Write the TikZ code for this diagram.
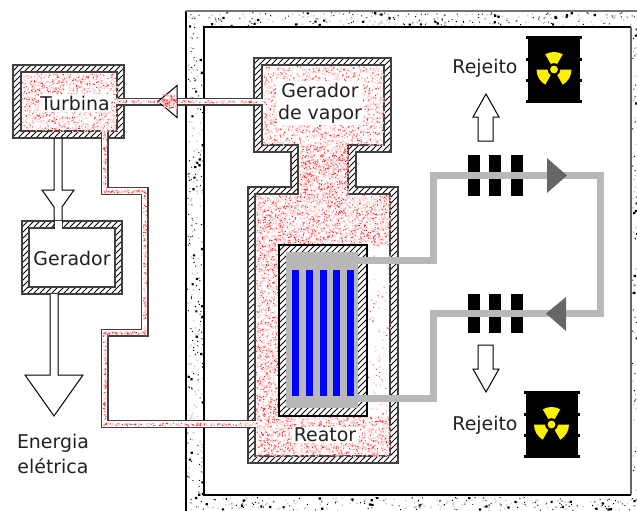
\documentclass[tikz,border=0pt]{standalone}
\usepackage{fontspec}
\setmainfont{DejaVu Sans}
\definecolor{wallline}{gray}{0.25}
\definecolor{coolgray}{gray}{0.72}
\definecolor{darktip}{gray}{0.4}
\definecolor{labelink}{gray}{0.13}
\tikzset{
	wall/.style     = {draw = wallline, line width = 1.1pt},
	hatchline/.style= {draw = black, line width = 0.6pt},
	cavity/.style   = {draw = wallline, line width = 1.1pt, fill = white},
	hollow/.style   = {draw = black, line width = 0.75pt, fill = white},
	cooling/.style  = {draw = coolgray, line width = 5.2pt, line join = miter},
	barblock/.style = {fill = black},
	rod/.style      = {fill = blue},
	tiptri/.style   = {fill = darktip},
	label/.style    = {text = labelink, font = \fontsize{14.2pt}{16.7pt}\selectfont,
		align = center, inner sep = 1pt},
	barrel/.pic     = {
		\fill[black] (-26,-33) rectangle (26,33);
		\foreach \ry in {-32,-10.5,10.5,32}
			\fill[black] (-28,\ry-1.5) rectangle (28,\ry+1.5);
		\foreach \ang in {270,30,150}
			\fill[yellow] (\ang-30:6.5) arc[start angle = \ang-30, end angle = \ang+30, radius = 6.5]
				-- (\ang+30:17.5) arc[start angle = \ang+30, end angle = \ang-30, radius = 17.5] -- cycle;
		\filldraw[fill = yellow, draw = black, line width = 0.6pt] (0,0) circle (4.5);
	}
}
% rect x0 y0 width height count colour dot
\newcommand{\speckle}[7]{
	\fill[#6] \foreach \k in {1,...,#5} {
		({#1+rnd*#3},{#2+rnd*#4}) rectangle ++(#7,#7)
	};
}
\newcommand{\steam}[5]{
	\speckle{#1}{#2}{#3}{#4}{#5}{red!22}{1.4}
	\speckle{#1}{#2}{#3}{#4}{#5}{red!22}{1.4}
	\speckle{#1}{#2}{#3}{#4}{#5}{red!85}{1}
}
\newcommand{\grit}[5]{
	\pgfmathtruncatemacro{\bigdots}{#5/4}
	\speckle{#1}{#2}{#3}{#4}{#5}{black!22}{1.4}
	\speckle{#1}{#2}{#3}{#4}{#5}{black}{1}
	\speckle{#1}{#2}{#3}{#4}{\bigdots}{black}{2.2}
}
% slanted strokes across a box: x0 y0 x1 y1
\newcommand{\hatchbox}[4]{
	\pgfmathsetmacro{\hatchend}{#3}
	\pgfmathsetmacro{\hatchfirst}{#1-(#4-#2)}
	\pgfmathsetmacro{\hatchnext}{\hatchfirst+6}
	\foreach \hx in {\hatchfirst,\hatchnext,...,\hatchend}
		\draw[hatchline] (\hx,#4) -- ({\hx+#4-#2},#2);
}
\begin{document}
\begin{tikzpicture}[x=0.75pt, y=-0.75pt]
	\useasboundingbox (0,0) rectangle (637,511);
	\pgfmathsetseed{4127}

	% concrete building
	\draw[black, line width = 0.9pt] (186,511) -- (186,11);
	\draw[black!55, line width = 1.4pt] (186,11) -- (637,11);
	\grit{187}{12}{16}{497}{130}
	\grit{204}{12}{432}{13}{115}
	\grit{632}{27}{4}{468}{35}
	\grit{204}{497}{432}{13}{115}
	\draw[black, line width = 0.9pt] (631,495) -- (204,495) -- (204,27) -- (631,27);
	\draw[black!60, line width = 1.3pt] (631,27) -- (631,495);

	% turbine and generator casings
	\begin{scope}
		\clip (13,65) rectangle (124,138);
		\hatchbox{13}{65}{124}{138}
	\end{scope}
	\draw[wall] (13,65) rectangle (124,138);
	\draw[cavity] (21,72) rectangle (117,131);
	\begin{scope}
		\clip (22,221) rectangle (122,294);
		\hatchbox{22}{221}{122}{294}
	\end{scope}
	\draw[wall] (22,221) rectangle (122,294);
	\draw[cavity] (29,228) rectangle (115,287);

	% steam generator and vessel
	\begin{scope}
		\clip (254,58) -- (391,58) -- (391,152) -- (356,152) -- (356,187) -- (398,187)
			-- (398,463) -- (248,463) -- (248,187) -- (291,187) -- (291,152) -- (254,152) -- cycle;
		\hatchbox{248}{58}{398}{463}
	\end{scope}
	\draw[wall] (254,58) -- (391,58) -- (391,152) -- (356,152) -- (356,187) -- (398,187)
		-- (398,463) -- (248,463) -- (248,187) -- (291,187) -- (291,152) -- (254,152) -- cycle;
	\draw[cavity] (262,65) -- (384,65) -- (384,145) -- (348,145) -- (348,194) -- (390,194)
		-- (390,456) -- (255,456) -- (255,194) -- (298,194) -- (298,145) -- (262,145) -- cycle;

	% pipes
	\draw[draw = wallline, line width = 6pt] (117,101.5) -- (262,101.5);
	\draw[draw = white, line width = 4pt] (116,101.5) -- (263,101.5);
	\draw[draw = wallline, line width = 6pt] (104.5,131) -- (104.5,191) -- (144.5,191)
		-- (144.5,332.5) -- (104.5,332.5) -- (104.5,424) -- (255,424);
	\draw[draw = white, line width = 4pt] (104.5,130) -- (104.5,191) -- (144.5,191)
		-- (144.5,332.5) -- (104.5,332.5) -- (104.5,424) -- (256,424);
	\draw[hollow] (158,101.5) -- (177,85.5) -- (177,117.5) -- cycle;

	% steam speckles
	\steam{22}{73}{95}{58}{370}
	\steam{263}{66}{121}{79}{530}
	\steam{299}{145}{49}{50}{255}
	\steam{256}{195}{134}{50}{545}
	\steam{256}{245}{23}{211}{390}
	\steam{279}{416}{111}{40}{360}
	\steam{367}{245}{23}{171}{28}
	\steam{118}{100}{145}{2.5}{50}
	\steam{162}{94}{14}{14}{40}
	\steam{103}{131}{3}{60}{24}
	\steam{103}{189.5}{42}{3}{24}
	\steam{143}{190}{3}{142}{50}
	\steam{103}{331}{42}{3}{24}
	\steam{103}{332}{3}{92}{34}
	\steam{103}{422.5}{152}{3}{60}

	% shafts and output arrows
	\draw[hollow] (54,138) -- (54,190) -- (42,190) -- (54,207) -- (54,228.5)
		(62,228.5) -- (62,207) -- (74,190) -- (62,190) -- (62,138);
	\fill[white] (54.5,221) rectangle (61.5,229);
	\draw[hollow] (50,294) -- (50,375) -- (25,375) -- (54,416) -- (83,375) -- (58,375) -- (58,294) ;
	\draw[hollow] (486,94) -- (499,117) -- (493,117) -- (493,141) -- (478,141) -- (478,117)
		-- (473,117) -- cycle;
	\draw[hollow] (486,392) -- (499,369) -- (493,369) -- (493,345) -- (478,345) -- (478,369)
		-- (473,369) -- cycle;

	% core
	\fill[white] (279,245) rectangle (367,416);
	\begin{scope}
		\clip (279,245) rectangle (367,416);
		\hatchbox{279}{245}{367}{416}
	\end{scope}
	\draw[wall, draw = black, line width = 0.8pt] (279,245) rectangle (367,416);
	\fill[coolgray] (286,252) rectangle (358,408);
	\foreach \rx in {292,306,320,333,347}
		\fill[rod] (\rx,270) rectangle (\rx+7,396);

	% exchanger blocks and cooling loop
	\foreach \bx in {468,489,511} {
		\fill[barblock] (\bx,155) rectangle (\bx+12,196);
		\fill[barblock] (\bx,294) rectangle (\bx+12,333);
	}
	\draw[cooling] (358,260.5) -- (433.5,260.5) -- (433.5,175.5) -- (600.5,175.5)
		-- (600.5,313.5) -- (433.5,313.5) -- (433.5,398.5) -- (358,398.5);
	\fill[tiptri] (567,175.5) -- (547,158) -- (547,193) -- cycle;
	\fill[tiptri] (546,313.5) -- (566,297) -- (566,331) -- cycle;

	% waste drums
	\pic at (554,69.5) {barrel};
	\pic at (551.5,424.5) {barrel};

	% labels
	\node[label, fill = white] (turbina) at (75,103) {Turbina};
	\node[label, fill = white] (gerador) at (72,258) {Gerador};
	\node[label, fill = white] (gervapor) at (320,103) {Gerador\\de vapor};
	\node[label, fill = white] (reator) at (325,435) {Reator};
	\node[label] (energia) at (53,454) {Energia\\[2.2pt]elétrica};
	\node[label] (rejeitoa) at (485,68.5) {Rejeito};
	\node[label] (rejeitob) at (485,425) {Rejeito};
\end{tikzpicture}
\end{document}
